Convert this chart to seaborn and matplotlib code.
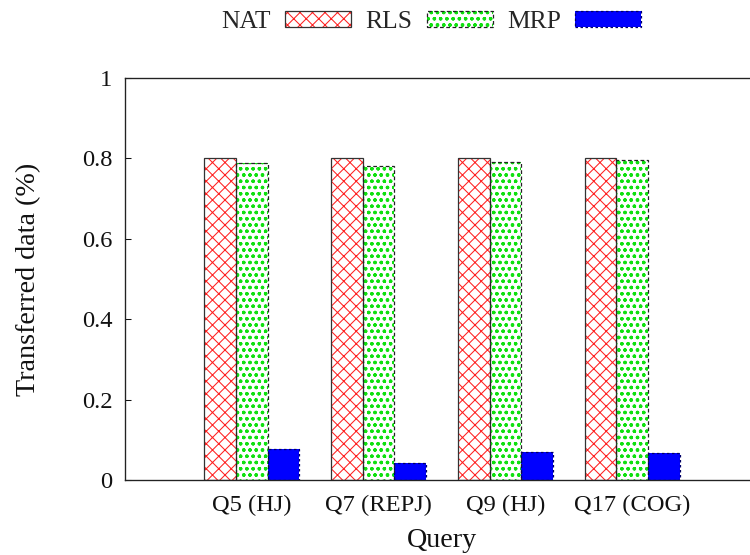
import matplotlib
matplotlib.use("Agg")
import matplotlib.pyplot as plt
from matplotlib.patches import Rectangle, Patch
from matplotlib.legend_handler import HandlerTuple
from matplotlib.ticker import FuncFormatter, FixedLocator
import seaborn as sns
import pandas as pd

queries = ["Q5 (HJ)", "Q7 (REPJ)", "Q9 (HJ)", "Q17 (COG)"]
methods = ["NAT", "RLS", "MRP"]
nat = [0.800, 0.800, 0.800, 0.802]
rls = [0.788, 0.782, 0.792, 0.797]
mrp = [0.076, 0.042, 0.070, 0.066]
yticks = [0, 0.2, 0.4, 0.6, 0.8, 1.0]

rows = []
for m, vals in zip(methods, [nat, rls, mrp]):
    for q, v in zip(queries, vals):
        rows.append({"Query": q, "Method": m, "Value": v})
df = pd.DataFrame(rows)

sns.set_theme(style="ticks")
plt.rcParams["font.family"] = ["Liberation Serif", "DejaVu Serif"]
plt.rcParams["hatch.linewidth"] = 1.0

fig = plt.figure(figsize=(10, 7.4), dpi=75)
ax = fig.add_axes([125/750, 1-480/555, (759-125)/750, (480-78)/555])

sns.barplot(data=df, x="Query", y="Value", hue="Method", hue_order=methods,
            order=queries, width=0.75, ax=ax, legend=False,
            palette=["white", "white", "blue"])

styles = {
    "NAT": dict(face="white", hatch="xx", hcol="#ff2020", ecol="#333333", ls="-"),
    "RLS": dict(face="white", hatch="oo..", hcol="#10e010", ecol="#222222", ls=(0, (3, 2))),
    "MRP": dict(face="blue", hatch=None, hcol="blue", ecol="#000066", ls=(0, (2, 2))),
}

for m, cont in zip(methods, ax.containers):
    st = styles[m]
    for p in cont:
        p.set_facecolor(st["face"])
        p.set_edgecolor(st["hcol"])
        p.set_linewidth(0)
        if st["hatch"]:
            p.set_hatch(st["hatch"])
        r = Rectangle(p.get_xy(), p.get_width(), p.get_height(), fill=False,
                      edgecolor=st["ecol"], linestyle=st["ls"], linewidth=1.2,
                      zorder=p.get_zorder() + 0.1)
        ax.add_patch(r)

ax.set_xlim(-1, 4)
ax.set_ylim(0, 1)
ax.yaxis.set_major_locator(FixedLocator(yticks))
ax.yaxis.set_major_formatter(FuncFormatter(lambda v, _: "%g" % v))
ax.tick_params(axis="y", direction="in", length=6, width=1, labelsize=23.5, right=True, pad=12, colors="#111111")
ax.tick_params(axis="x", length=0, labelsize=23.5, pad=14, colors="#111111")
for s in ax.spines.values():
    s.set_visible(True)
    s.set_color("#222222")
    s.set_linewidth(1.3)
ax.set_xlabel("Query", fontsize=27, labelpad=12, color="#111111")
ax.set_ylabel("Transferred data (%)", fontsize=27, labelpad=39, color="#111111")

handles = []
for m in methods:
    st = styles[m]
    base = Patch(facecolor=st["face"], edgecolor=st["hcol"], hatch=st["hatch"], linewidth=0)
    outline = Patch(fill=False, edgecolor=st["ecol"], linestyle=st["ls"], linewidth=1.2)
    handles.append((base, outline))

fig.legend(handles, methods, loc="upper center", bbox_to_anchor=(0.575, 1.022), ncol=3,
           frameon=False, markerfirst=False, fontsize=24.5, handlelength=2.59, handleheight=0.6,
           handletextpad=0.55, columnspacing=0.58,
           handler_map={tuple: HandlerTuple(ndivide=1, pad=0)})

fig.savefig("out.png", dpi=75)
